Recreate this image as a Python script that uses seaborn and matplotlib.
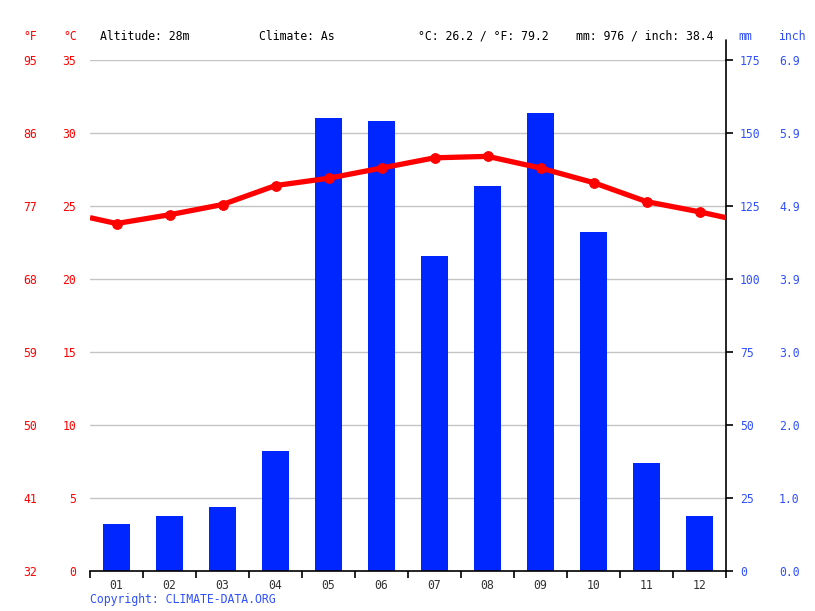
import numpy as np
import pandas as pd
import matplotlib
matplotlib.use("Agg")
import matplotlib.pyplot as plt
import matplotlib.transforms as mtransforms
import seaborn as sns

months = ["01", "02", "03", "04", "05", "06", "07", "08", "09", "10", "11", "12"]
precip_mm = [16, 19, 22, 41, 155, 154, 108, 132, 157, 116, 37, 19]
temp_c = [23.8, 24.4, 25.1, 26.4, 26.9, 27.6, 28.3, 28.4, 27.6, 26.6, 25.3, 24.6]
c_ticks = [0, 5, 10, 15, 20, 25, 30, 35]
f_labels = ["32", "41", "50", "59", "68", "77", "86", "95"]
mm_ticks = [0, 25, 50, 75, 100, 125, 150, 175]
inch_labels = ["0.0", "1.0", "2.0", "3.0", "3.9", "4.9", "5.9", "6.9"]

sns.set_theme(style="white")
FONT = "DejaVu Sans Mono"
plt.rcParams["font.family"] = [FONT, "DejaVu Sans"]
FS = 8.3
RED = "#ff0000"
BLUE = "#0026ff"
LBLUE = "#3050ff"
GRID = "#c4c4c4"

W, H = 815, 611
fig = plt.figure(figsize=(W / 100, H / 100), dpi=100)
L, R, T, B = 90, 726, 60, 571
rect = [L / W, 1 - B / H, (R - L) / W, (B - T) / H]
ax_t = fig.add_axes(rect)
ax_p = ax_t.twinx()
ax_t.set_zorder(ax_p.get_zorder() + 1)
ax_t.patch.set_visible(False)

df = pd.DataFrame({"month": months, "mm": precip_mm, "temp": temp_c})
df["x"] = np.arange(len(months))

# bars
sns.barplot(data=df, x="month", y="mm", ax=ax_p, color=BLUE, saturation=1,
            width=0.52, edgecolor="none")
ax_p.set_ylim(0, 175)
ax_p.set_xlim(-0.5, 11.5)

# grid lines
for c in c_ticks[1:]:
    ax_p.axhline(c * 5, color=GRID, lw=1, zorder=0)

# temperature line (wrapped to edges)
wrap = (temp_c[0] + temp_c[-1]) / 2
xs = [-0.5] + list(df["x"]) + [11.5]
ys = [wrap] + temp_c + [wrap]
ax_t.plot(xs, ys, color=RED, lw=3.8, solid_capstyle="butt", zorder=3)
sns.lineplot(data=df, x="x", y="temp", ax=ax_t, color=RED, lw=0, marker="o",
             markersize=7, markeredgecolor=RED, zorder=4)
ax_t.set_ylim(0, 35)
ax_t.set_xlim(-0.5, 11.5)

# spines
for a in (ax_t, ax_p):
    for s in a.spines.values():
        s.set_visible(False)
ax_t.spines["bottom"].set_visible(True)
ax_t.spines["bottom"].set_color("black")
ax_t.spines["bottom"].set_linewidth(1.2)
ax_p.spines["right"].set_visible(True)
ax_p.spines["right"].set_color("black")
ax_p.spines["right"].set_linewidth(1.2)
ax_p.plot([1, 1], [1, 1.04], transform=ax_p.transAxes, color="black", lw=1.2,
          clip_on=False)

# temperature ticks (left)
ax_t.set_yticks(c_ticks)
ax_t.set_yticklabels([str(c) for c in c_ticks])
ax_t.tick_params(axis="y", left=True, length=0, pad=10, labelsize=FS,
                 labelcolor=RED, labelleft=True, right=False, labelright=False)
trans_l = mtransforms.blended_transform_factory(ax_t.transAxes, ax_t.transData)
for c, f in zip(c_ticks, f_labels):
    ax_t.text((30 - L) / (R - L), c, f, transform=trans_l, ha="center",
              va="center_baseline", color=RED, fontsize=FS)

# precipitation ticks (right)
ax_p.set_yticks(mm_ticks)
ax_p.set_yticklabels([str(m) for m in mm_ticks])
ax_p.tick_params(axis="y", right=True, length=5, width=1.2, color="black",
                 pad=5, labelsize=FS, labelcolor=LBLUE, direction="out")
ax_p.set_ylabel("")
trans_r = mtransforms.blended_transform_factory(ax_p.transAxes, ax_p.transData)
for m, i in zip(mm_ticks, inch_labels):
    ax_p.text((779 - L) / (R - L), m, i, transform=trans_r, ha="left",
              va="center_baseline", color=LBLUE, fontsize=FS)

# x ticks
ax_t.set_xticks(df["x"])
ax_t.set_xticklabels(months)
ax_t.set_xticks(np.arange(-0.5, 12, 1), minor=True)
ax_t.tick_params(axis="x", which="major", length=0, pad=6, labelsize=FS,
                 labelcolor="#333333", bottom=True)
ax_t.tick_params(axis="x", which="minor", length=5, width=1.2, color="black",
                 direction="out", bottom=True)
ax_t.set_xlabel("")
ax_t.set_ylabel("")
ax_p.set_xlabel("")
ax_p.tick_params(axis="x", bottom=False, labelbottom=False)

# header
hy = 1 - 36 / H
fig.text(30 / W, hy, "°F", color=RED, fontsize=FS, ha="center", va="center")
fig.text(70 / W, hy, "°C", color=RED, fontsize=FS, ha="center", va="center")
fig.text(100 / W, hy, "Altitude: 28m", color="black", fontsize=FS, va="center")
fig.text(259 / W, hy, "Climate: As", color="black", fontsize=FS, va="center")
fig.text(418 / W, hy, "°C: 26.2 / °F: 79.2", color="black", fontsize=FS, va="center")
fig.text(576 / W, hy, "mm: 976 / inch: 38.4", color="black", fontsize=FS, va="center")
fig.text(745 / W, hy, "mm", color=LBLUE, fontsize=FS, ha="center", va="center")
fig.text(792 / W, hy, "inch", color=LBLUE, fontsize=FS, ha="center", va="center")
fig.text(90 / W, 1 - 599 / H, "Copyright: CLIMATE-DATA.ORG", color=LBLUE,
         fontsize=FS, va="center")

fig.savefig("out.png", dpi=100)
